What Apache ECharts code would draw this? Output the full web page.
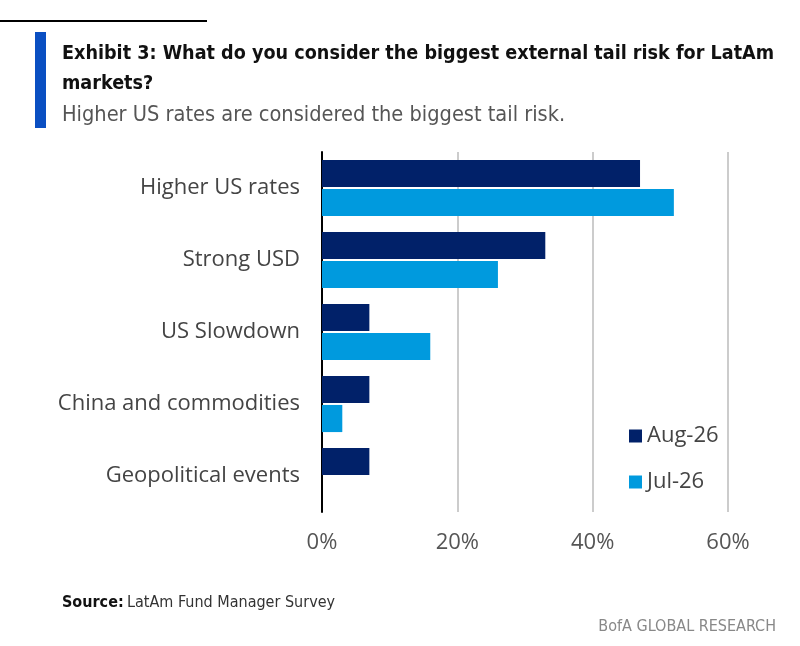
<!DOCTYPE html>
<html>
<head>
<meta charset="utf-8">
<script src="https://cdn.jsdelivr.net/npm/echarts@6/dist/echarts.min.js"></script>
<style>
  html, body { margin: 0; padding: 0; background: #fff; }
  #chart { width: 800px; height: 646px; }
</style>
</head>
<body>
<div id="chart"></div>
<script>
const categories = ['Higher US rates', 'Strong USD', 'US Slowdown', 'China and commodities', 'Geopolitical events'];
const aug26 = [47, 33, 7, 7, 7];
const jul26 = [52, 26, 16, 3, 0];
const xTicks = [0, 20, 40, 60];

const NAVY = '#012169';
const LIGHT = '#009ADE';
const FONT = '"Open Sans", "Noto Sans", sans-serif';
const NARROW = '"Liberation Sans Narrow", "DejaVu Sans Condensed", "Open Sans", sans-serif';

const chart = echarts.init(document.getElementById('chart'), null, { renderer: 'canvas' });

chart.setOption({
  animation: false,
  backgroundColor: '#fff',
  grid: { left: 322, right: 72, top: 152, bottom: 134, containLabel: false },
  legend: {
    orient: 'vertical',
    left: 624,
    top: 420,
    itemWidth: 13,
    itemHeight: 13,
    itemGap: 24,
    icon: 'rect',
    textStyle: { fontFamily: FONT, fontSize: 22, color: '#444' },
    data: ['Aug-26', 'Jul-26']
  },
  xAxis: {
    type: 'value',
    min: 0,
    max: 60,
    interval: 20,
    axisLine: { show: false },
    axisTick: { show: false },
    axisLabel: {
      margin: 20,
      fontFamily: FONT,
      fontSize: 22,
      color: '#555',
      formatter: v => (xTicks.includes(v) ? v + '%' : '')
    },
    splitLine: { lineStyle: { color: '#cccccc', width: 2 } }
  },
  yAxis: {
    type: 'category',
    inverse: true,
    data: categories,
    axisLine: { show: true, lineStyle: { color: '#000', width: 2 } },
    axisTick: { show: false },
    axisLabel: {
      margin: 22,
      fontFamily: FONT,
      fontSize: 22,
      color: '#444'
    }
  },
  series: [
    {
      name: 'Aug-26',
      type: 'bar',
      data: aug26,
      itemStyle: { color: NAVY },
      barGap: '7%',
      barCategoryGap: '22%'
    },
    {
      name: 'Jul-26',
      type: 'bar',
      data: jul26,
      itemStyle: { color: LIGHT },
      barGap: '7%',
      barCategoryGap: '22%'
    }
  ],
  graphic: [
    { type: 'rect', shape: { x: 0, y: 20, width: 207, height: 2 }, style: { fill: '#000' } },
    { type: 'rect', shape: { x: 35, y: 32, width: 11, height: 96 }, style: { fill: '#0A4FC2' } },
    {
      type: 'text', left: 62, top: 39,
      style: {
        text: 'Exhibit 3: What do you consider the biggest external tail risk for LatAm\nmarkets?',
        font: 'bold 19.6px ' + NARROW, fill: '#111', lineHeight: 30
      }
    },
    {
      type: 'text', left: 62, top: 104,
      style: {
        text: 'Higher US rates are considered the biggest tail risk.',
        font: '21.6px ' + NARROW, fill: '#555'
      }
    },
    {
      type: 'text', left: 62, top: 595,
      style: {
        rich: {
          b: { font: 'bold 16px ' + NARROW, fill: '#111' },
          n: { font: '16px ' + NARROW, fill: '#333' }
        },
        text: '{b|Source:} {n|LatAm Fund Manager Survey}'
      }
    },
    {
      type: 'text', right: 24, top: 619,
      style: {
        text: 'BofA GLOBAL RESEARCH',
        font: '16px ' + NARROW, fill: '#888'
      }
    }
  ]
});
</script>
</body>
</html>
